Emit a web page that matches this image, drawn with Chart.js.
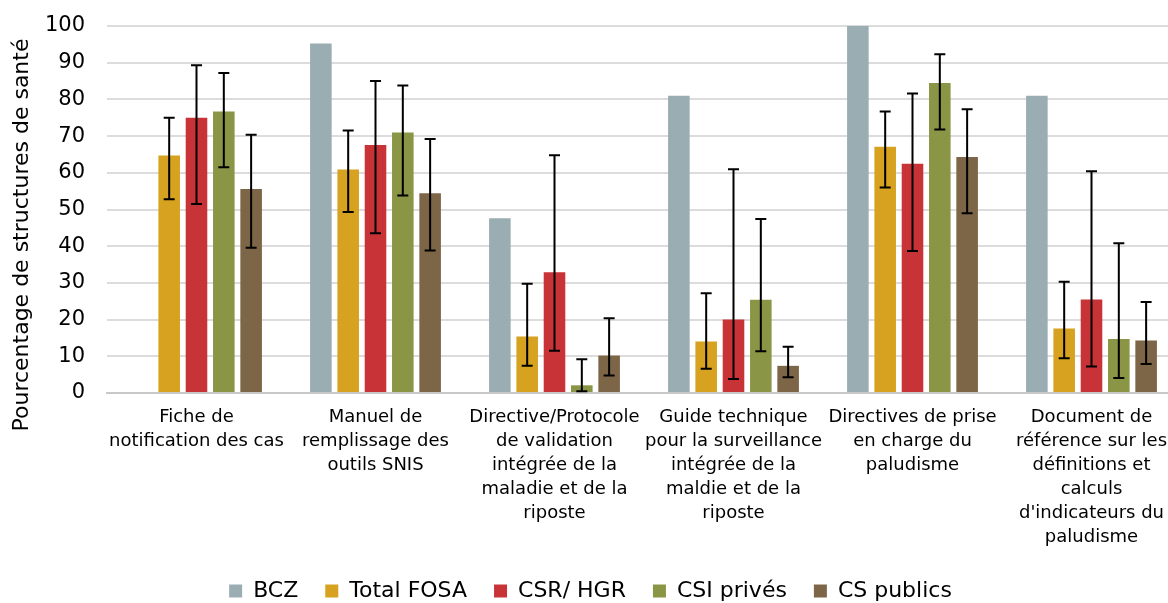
<!DOCTYPE html>
<html>
<head>
<meta charset="utf-8">
<script src="https://cdn.jsdelivr.net/npm/chart.js@4.4.1/dist/chart.umd.min.js"></script>
<style>
  html, body { margin: 0; padding: 0; background: #fff; overflow: hidden; }
  #wrap { width: 1182px; height: 612px; }
</style>
</head>
<body>
<div id="wrap"><canvas id="chart" width="1182" height="612"></canvas></div>
<script>
// Catégories (axe X)
const categories = [
    ['Fiche de', 'notification des cas'],
    ['Manuel de', 'remplissage des', 'outils SNIS'],
    ['Directive/Protocole', 'de validation', 'intégrée de la', 'maladie et de la', 'riposte'],
    ['Guide technique', 'pour la surveillance', 'intégrée de la', 'maldie et de la', 'riposte'],
    ['Directives de prise', 'en charge du', 'paludisme'],
    ['Document de', 'référence sur les', 'définitions et', 'calculs', "d'indicateurs du", 'paludisme']
];

// Valeurs par série
const bcz        = [null, 95.2, 47.6, 81.0, 100, 81.0];
const totalFosa  = [64.7, 60.9, 15.4, 14.0, 67.1, 17.6];
const csrHgr     = [75.0, 67.6, 32.9, 20.0, 62.5, 25.5];
const csiPrives  = [76.7, 71.0, 2.1, 25.4, 84.5, 14.7];
const csPublics  = [55.6, 54.4, 10.2, 7.4, 64.3, 14.3];

// Intervalles de confiance (bas / haut)
const fosaLow  = [52.8, 49.3, 7.4, 6.6, 56.0, 9.5];
const fosaHigh = [75.0, 71.5, 29.8, 27.2, 76.7, 30.3];
const csrLow   = [51.5, 43.5, 11.5, 3.8, 38.7, 7.2];
const csrHigh  = [89.3, 85.0, 64.8, 61.0, 81.6, 60.4];
const csiLow   = [61.5, 53.8, 0.5, 11.4, 71.8, 4.1];
const csiHigh  = [87.2, 83.8, 9.2, 47.4, 92.3, 40.8];
const cspLow   = [39.6, 38.8, 4.8, 4.3, 49.0, 7.9];
const cspHigh  = [70.4, 69.2, 20.4, 12.6, 77.3, 24.8];

const yTicks = [0, 10, 20, 30, 40, 50, 60, 70, 80, 90, 100];

const FONT = '"DejaVu Sans", Verdana, sans-serif';

// Barres d'erreur dessinées via les échelles du graphique
const errorBars = {
    id: 'errorBars',
    afterDatasetsDraw(chart) {
        const ctx = chart.ctx;
        const yScale = chart.scales.y;
        chart.data.datasets.forEach((ds, di) => {
            if (!ds.errLow) return;
            const meta = chart.getDatasetMeta(di);
            meta.data.forEach((bar, i) => {
                if (ds.errLow[i] == null) return;
                const x = bar.x;
                const yLo = yScale.getPixelForValue(ds.errLow[i]);
                const yHi = yScale.getPixelForValue(ds.errHigh[i]);
                ctx.save();
                ctx.strokeStyle = '#000';
                ctx.lineWidth = 2;
                ctx.beginPath();
                ctx.moveTo(x, yLo); ctx.lineTo(x, yHi);
                ctx.moveTo(x - 5.5, yLo); ctx.lineTo(x + 5.5, yLo);
                ctx.moveTo(x - 5.5, yHi); ctx.lineTo(x + 5.5, yHi);
                ctx.stroke();
                ctx.restore();
            });
        });
    }
};

// Titre de l'axe Y
const yTitle = {
    id: 'yTitle',
    afterDraw(chart) {
        const ctx = chart.ctx;
        ctx.save();
        ctx.translate(22, 235);
        ctx.rotate(-Math.PI / 2);
        ctx.font = '22px ' + FONT;
        ctx.fillStyle = '#000';
        ctx.textAlign = 'center';
        ctx.textBaseline = 'middle';
        ctx.fillText('Pourcentage de structures de santé', 0, 0);
        ctx.restore();
    }
};

const ctx = document.getElementById('chart').getContext('2d');
new Chart(ctx, {
    type: 'bar',
    data: {
        labels: categories,
        datasets: [
            { label: 'BCZ', data: bcz, backgroundColor: '#9AADB2' },
            { label: 'Total FOSA', data: totalFosa, backgroundColor: '#D6A21F', errLow: fosaLow, errHigh: fosaHigh },
            { label: 'CSR/ HGR', data: csrHgr, backgroundColor: '#C83337', errLow: csrLow, errHigh: csrHigh },
            { label: 'CSI privés', data: csiPrives, backgroundColor: '#8A9646', errLow: csiLow, errHigh: csiHigh },
            { label: 'CS publics', data: csPublics, backgroundColor: '#7D6647', errLow: cspLow, errHigh: cspHigh }
        ]
    },
    options: {
        responsive: false,
        animation: false,
        categoryPercentage: 0.763,
        barPercentage: 0.79,
        layout: { padding: { top: 26, right: 1, left: 0, bottom: 0 } },
        scales: {
            x: {
                grid: { display: false, drawTicks: false },
                border: { display: true, color: '#C8C8C8', width: 2 },
                ticks: {
                    color: '#000',
                    padding: 12,
                    maxRotation: 0,
                    autoSkip: false,
                    font: { size: 18, family: FONT, lineHeight: 1.333 }
                },
                afterFit: (scale) => { scale.height = 160; }
            },
            y: {
                min: 0,
                max: 100,
                afterBuildTicks: (scale) => { scale.ticks = yTicks.map(v => ({ value: v })); },
                grid: { color: '#DCDCDC', lineWidth: 2, drawTicks: false },
                border: { display: false },
                ticks: {
                    color: '#000',
                    padding: 22,
                    font: { size: 21, family: FONT }
                },
                afterFit: (scale) => {
                    scale.width = 107;
                    scale.paddingTop = 0;
                    scale.paddingBottom = 0;
                }
            }
        },
        plugins: {
            legend: {
                position: 'bottom',
                labels: {
                    color: '#000',
                    boxWidth: 13,
                    boxHeight: 13,
                    padding: 27,
                    font: { size: 22, family: FONT }
                }
            },
            tooltip: { enabled: false }
        }
    },
    plugins: [errorBars, yTitle]
});
</script>
</body>
</html>
